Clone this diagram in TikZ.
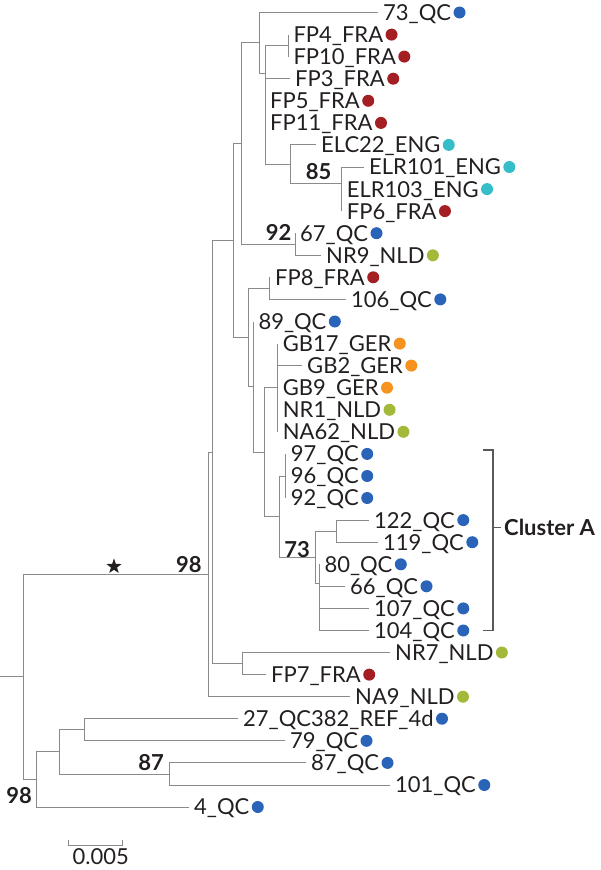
\documentclass[tikz,border=0pt]{standalone}
\usepackage{fontspec}
\setmainfont{Lato}
\usetikzlibrary{positioning,shapes.geometric}
\definecolor{txt}{HTML}{231F20}
\definecolor{lgray}{HTML}{8A8A8A}
\definecolor{bgray}{HTML}{58595B}
\definecolor{cqc}{HTML}{2A64B8}
\definecolor{cfra}{HTML}{A31F24}
\definecolor{ceng}{HTML}{35BEC9}
\definecolor{cnld}{HTML}{A3B93A}
\definecolor{cger}{HTML}{F6921E}
\newcommand{\lfont}{\fontsize{22}{26}\selectfont}

\begin{document}
\begin{tikzpicture}[
  x=1pt, y=-1pt,
  br/.style={draw=lgray, line width=1pt},
  brk/.style={draw=bgray, line width=1.2pt},
  lf/.style={anchor=west, font=\lfont, text=txt, inner xsep=5pt, inner ysep=0pt, text height=15.8pt, text depth=0pt},
  spot/.style={circle, inner sep=0pt, minimum size=12pt, xshift=-3pt},
  qc/.style={label={[spot, fill=cqc]right:{}}},
  fra/.style={label={[spot, fill=cfra]right:{}}},
  eng/.style={label={[spot, fill=ceng]right:{}}},
  nld/.style={label={[spot, fill=cnld]right:{}}},
  ger/.style={label={[spot, fill=cger]right:{}}},
  bs/.style={font=\lfont\bfseries, text=txt, inner sep=0pt},
  starmk/.style={star, star points=5, star point ratio=2.5, fill=txt, inner sep=0pt, minimum size=16pt},
]
  \useasboundingbox (0,0) rectangle (600,870);

  \node[lf, qc]  (l73)     at (378,12.5)    {73\_QC};
  \node[lf, fra] (lFP4)    at (288.3,34.6)  {FP4\_FRA};
  \node[lf, fra] (lFP10)   at (288.3,56.6)  {FP10\_FRA};
  \node[lf, fra] (lFP3)    at (290,78.7)    {FP3\_FRA};
  \node[lf, fra] (lFP5)    at (265,100.8)   {FP5\_FRA};
  \node[lf, fra] (lFP11)   at (265,122.9)   {FP11\_FRA};
  \node[lf, eng] (lELC22)  at (316,144.9)   {ELC22\_ENG};
  \node[lf, eng] (lELR101) at (364,167.0)   {ELR101\_ENG};
  \node[lf, eng] (lELR103) at (341.7,189.1) {ELR103\_ENG};
  \node[lf, fra] (lFP6)    at (341.7,211.1) {FP6\_FRA};
  \node[lf, qc]  (l67)     at (295,233.2)   {67\_QC};
  \node[lf, nld] (lNR9)    at (321,255.3)   {NR9\_NLD};
  \node[lf, fra] (lFP8)    at (270,277.3)   {FP8\_FRA};
  \node[lf, qc]  (l106)    at (346,299.4)   {106\_QC};
  \node[lf, qc]  (l89)     at (253.3,321.5) {89\_QC};
  \node[lf, ger] (lGB17)   at (277.7,343.6) {GB17\_GER};
  \node[lf, ger] (lGB2)    at (302,365.6)   {GB2\_GER};
  \node[lf, ger] (lGB9)    at (277.7,387.7) {GB9\_GER};
  \node[lf, nld] (lNR1)    at (277.7,409.8) {NR1\_NLD};
  \node[lf, nld] (lNA62)   at (277.7,431.8) {NA62\_NLD};
  \node[lf, qc]  (l97)     at (285.7,453.9) {97\_QC};
  \node[lf, qc]  (l96)     at (285.7,476.0) {96\_QC};
  \node[lf, qc]  (l92)     at (285.7,498.0) {92\_QC};
  \node[lf, qc]  (l122)    at (369,520.1)   {122\_QC};
  \node[lf, qc]  (l119)    at (378,542.2)   {119\_QC};
  \node[lf, qc]  (l80)     at (319.3,564.3) {80\_QC};
  \node[lf, qc]  (l66)     at (345,586.3)   {66\_QC};
  \node[lf, qc]  (l107)    at (369,608.4)   {107\_QC};
  \node[lf, qc]  (l104)    at (369,630.5)   {104\_QC};
  \node[lf, nld] (lNR7)    at (390,652.5)   {NR7\_NLD};
  \node[lf, fra] (lFP7)    at (266,674.6)   {FP7\_FRA};
  \node[lf, nld] (lNA9)    at (350,696.7)   {NA9\_NLD};
  \node[lf, qc]  (l27)     at (238,718.7)   {27\_QC382\_REF\_4d};
  \node[lf, qc]  (l79)     at (285,740.8)   {79\_QC};
  \node[lf, qc]  (l87)     at (306,762.9)   {87\_QC};
  \node[lf, qc]  (l101)    at (390,785.0)   {101\_QC};
  \node[lf, qc]  (l4)      at (189,807.0)   {4\_QC};

  \coordinate (stub) at (0,676.9);
  \coordinate (root) at (23,676.9);
  \coordinate (nUp)  at (208.3,574.4);
  \coordinate (nA)   at (212.3,452.1);
  \coordinate (nB)   at (233.3,240.6);
  \coordinate (nC)   at (241.7,143.5);
  \coordinate (nD)   at (259.3,42.8);
  \coordinate (nP)   at (265,73.0);
  \coordinate (n288) at (288.3,45.6);
  \coordinate (nELC) at (290,164.3);
  \coordinate (n85)  at (341.7,183.6);
  \coordinate (n92)  at (295,244.3);
  \coordinate (nE)   at (248.3,337.6);
  \coordinate (n269) at (269,288.4);
  \coordinate (nF)   at (253.3,386.9);
  \coordinate (nG)   at (264.3,452.2);
  \coordinate (nGB)  at (277.7,387.7);
  \coordinate (nH)   at (279,516.7);
  \coordinate (n97)  at (285.7,476.0);
  \coordinate (n73)  at (315,557.4);
  \coordinate (n122) at (336,531.2);
  \coordinate (n80)  at (319.3,583.6);
  \coordinate (n243) at (242.7,663.6);
  \coordinate (nLow) at (36,779.4);
  \coordinate (nL2)  at (59,751.9);
  \coordinate (nL3)  at (84,729.8);
  \coordinate (n87)  at (169,774.0);

  \draw[br] (stub) -- (root);
  \draw[br] (root) |- (nUp) (root) |- (nLow);
  \draw[br] (nUp) |- (nA) (nUp) |- (lNA9.west);
  \draw[br] (nA) |- (nB) (nA) |- (n243);
  \draw[br] (n243) |- (lNR7.west) (n243) |- (lFP7.west);
  \draw[br] (nB) |- (nC) (nB) |- (nE);
  \draw[br] (nC) |- (nD) (nC) |- (n92);
  \draw[br] (nD) |- (l73.west) (nD) |- (nP);
  \draw[br] (nP) |- (n288) (nP) |- (lFP3.west) (nP) |- (lFP5.west) (nP) |- (lFP11.west) (nP) |- (nELC);
  \draw[br] (n288) |- (lFP4.west) (n288) |- (lFP10.west);
  \draw[br] (nELC) |- (lELC22.west) (nELC) |- (n85);
  \draw[br] (n85) |- (lELR101.west) (n85) |- (lELR103.west) (n85) |- (lFP6.west);
  \draw[br] (n92) |- (l67.west) (n92) |- (lNR9.west);
  \draw[br] (nE) |- (n269) (nE) |- (nF);
  \draw[br] (n269) |- (lFP8.west) (n269) |- (l106.west);
  \draw[br] (nF) |- (l89.west) (nF) |- (nG);
  \draw[br] (nG) |- (nGB) (nG) |- (nH);
  \draw[br] (nGB) |- (lGB17.west) (nGB) |- (lGB2.west) (nGB) |- (lGB9.west) (nGB) |- (lNR1.west) (nGB) |- (lNA62.west);
  \draw[br] (nH) |- (n97) (nH) |- (n73);
  \draw[br] (n97) |- (l97.west) (n97) |- (l96.west) (n97) |- (l92.west);
  \draw[br] (n73) |- (n122) (n73) |- (n80);
  \draw[br] (n122) |- (l122.west) (n122) |- (l119.west);
  \draw[br] (n80) |- (l80.west) (n80) |- (l66.west) (n80) |- (l107.west) (n80) |- (l104.west);
  \draw[br] (nLow) |- (nL2) (nLow) |- (l4.west);
  \draw[br] (nL2) |- (nL3) (nL2) |- (n87);
  \draw[br] (nL3) |- (l27.west) (nL3) |- (l79.west);
  \draw[br] (n87) |- (l87.west) (n87) |- (l101.west);

  \node[bs, above left=1.5pt and 6.5pt of nUp] (b98a) {98};
  \node[bs, below left=8pt and 4pt of nLow]    (b98b) {98};
  \node[bs, above left=3pt and 5pt of n87]     (b87)  {87};
  \node[bs, above left=3.5pt and 10pt of n85]  (b85)  {85};
  \node[bs, above left=3.5pt and 3.5pt of n92] (b92)  {92};
  \node[bs, above left=0pt and 5pt of n73]     (b73)  {73};
  \node[starmk] (sk) at (114,566.5) {};

  \coordinate (ca1) at (493,450);
  \coordinate (ca2) at (493,630.5);
  \coordinate (ca3) at (493,527.5);
  \node[bs, anchor=west, inner xsep=3.5pt] (clA) at (500.5,527.5) {Cluster A};
  \draw[brk] ([xshift=-10pt]ca1) -- (ca1) -- (ca2) -- ([xshift=-10pt]ca2);
  \draw[brk] (ca3) -- (clA.west);

  \coordinate (sb1) at (68.5,845);
  \coordinate (sb2) at (122.5,845);
  \draw[br] ([yshift=5pt]sb1) -- (sb1) -- (sb2) -- ([yshift=5pt]sb2);
  \node[font=\lfont, text=txt, inner sep=0pt, below right=3pt and 4pt of sb1] (sbl) {0.005};
\end{tikzpicture}
\end{document}
